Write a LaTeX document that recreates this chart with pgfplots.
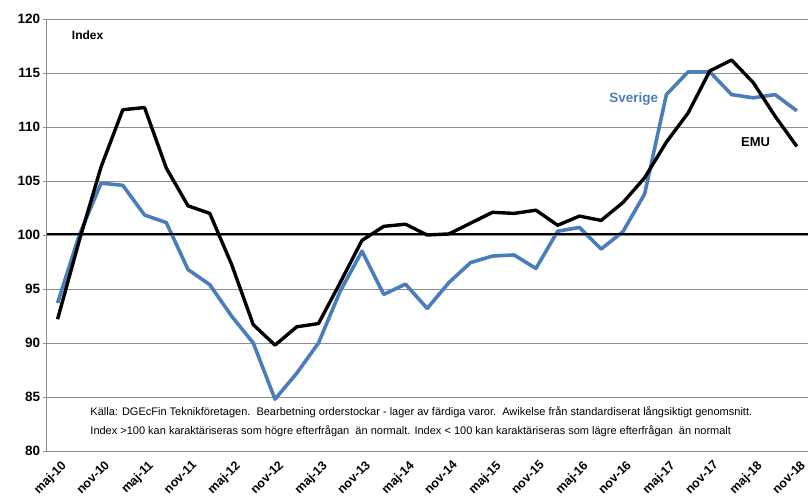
\documentclass[border=0pt]{standalone}
\usepackage{pgfplots}
\pgfplotsset{compat=1.18}
\usepackage{fontspec}
\setmainfont{Liberation Sans}
\definecolor{sblue}{RGB}{74,126,187}
\definecolor{gridgray}{RGB}{140,140,140}
\begin{document}
\begin{tikzpicture}[x=1pt,y=1pt]
\useasboundingbox (0,0) rectangle (811,497);
\begin{axis}[
  at={(46.7pt,46pt)}, anchor=south west,
  width=761pt, height=432pt, scale only axis,
  xmin=-0.5, xmax=34.5, ymin=80, ymax=120,
  ytick={80,85,...,120},
  xtick={0,2,...,34},
  xticklabels={maj-10,nov-10,maj-11,nov-11,maj-12,nov-12,maj-13,nov-13,maj-14,nov-14,maj-15,nov-15,maj-16,nov-16,maj-17,nov-17,maj-18,nov-18},
  minor xtick={1.5,3.5,...,33.5},
  xtick style={draw=none},
  minor tick length=5pt,
  major tick length=4pt,
  tick align=outside,
  tick style={gridgray, line width=0.8pt},
  ymajorgrids, major grid style={gridgray, line width=0.9pt},
  axis x line*=bottom, axis y line*=left,
  axis line style={gridgray, line width=0.9pt, -},
  /pgf/number format/assume math mode=true,
  yticklabel style={font=\fontsize{13.5}{15}\selectfont\bfseries, xshift=1pt},
  xticklabel style={font=\fontsize{12.5}{14}\selectfont\bfseries, rotate=45, anchor=north east, xshift=2pt, yshift=-2pt},
  clip=false,
]
\addplot[sblue, line width=3.6pt, line join=round] coordinates {
(0,93.7) (1,100.0) (2,104.8) (3,104.6) (4,101.85) (5,101.15) (6,96.8) (7,95.4)
(8,92.5) (9,90.0) (10,84.8) (11,87.2) (12,90.0) (13,94.8) (14,98.5) (15,94.5)
(16,95.45) (17,93.2) (18,95.6) (19,97.45) (20,98.05) (21,98.15) (22,96.9) (23,100.35)
(24,100.7) (25,98.7) (26,100.3) (27,103.8) (28,113.0) (29,115.1) (30,115.1) (31,113.0)
(32,112.7) (33,113.0) (34,111.5)};
\addplot[black, line width=2.8pt] coordinates {(-0.5,100.1) (34.5,100.1)};
\addplot[black, line width=3.4pt, line join=round] coordinates {
(0,92.2) (1,99.5) (2,106.3) (3,111.6) (4,111.8) (5,106.2) (6,102.7) (7,102.0)
(8,97.3) (9,91.7) (10,89.8) (11,91.5) (12,91.8) (13,95.6) (14,99.5) (15,100.8)
(16,101.0) (17,100.0) (18,100.1) (19,101.1) (20,102.1) (21,102.0) (22,102.3) (23,100.9)
(24,101.75) (25,101.35) (26,103.0) (27,105.3) (28,108.6) (29,111.3) (30,115.2) (31,116.2)
(32,114.1) (33,111.0) (34,108.2)};
\node[font=\fontsize{12}{14}\selectfont\bfseries, anchor=west] at (axis cs:0.5,118.5) {Index};
\node[font=\fontsize{13.5}{15}\selectfont\bfseries, text=sblue] at (axis cs:26.5,112.6) {Sverige};
\node[font=\fontsize{13}{15}\selectfont\bfseries] at (axis cs:32.1,108.6) {EMU};
\node[font=\fontsize{11}{13}\selectfont, anchor=west] at (axis cs:1.35,83.6) {Källa: DGEcFin Teknikföretagen.\ \ Bearbetning orderstockar - lager av färdiga varor.\ \ Awikelse från standardiserat långsiktigt genomsnitt.};
\node[font=\fontsize{11}{13}\selectfont, anchor=west] at (axis cs:1.35,81.85) {Index >100 kan karaktäriseras som högre efterfrågan\ \ än normalt. Index < 100 kan karaktäriseras som lägre efterfrågan\ \ än normalt};
\end{axis}
\end{tikzpicture}
\end{document}
